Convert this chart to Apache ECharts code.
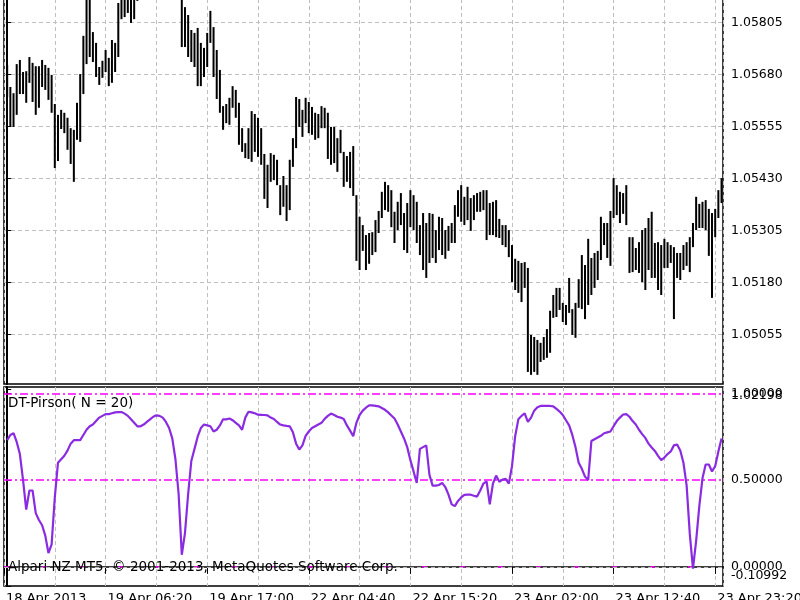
<!DOCTYPE html>
<html><head><meta charset="utf-8">
<script src="https://cdn.jsdelivr.net/npm/echarts@6/dist/echarts.min.js"></script>
<style>html,body{margin:0;padding:0;background:#fff}#c{width:800px;height:600px}</style>
</head><body><div id="c"></div>
<script>
// bars (high / low per bar)
const highs = [
1.05703,1.05650,1.05635,1.05705,1.05715,1.05686,1.05688,1.05722,1.05708,1.05700,
1.05700,1.05715,1.05703,1.05696,1.05679,1.05609,1.05583,1.05595,1.05588,1.05576,
1.05551,1.05547,1.05612,1.05681,1.05773,1.05870,1.05865,1.05782,1.05756,1.05698,
1.05713,1.05739,1.05720,1.05763,1.05756,1.05852,1.05872,1.05868,1.05875,1.05870,
1.05866,1.05880,1.05925,1.05940,1.05955,1.05960,1.05950,1.05965,1.05975,1.05960,
1.05945,1.05935,1.05920,1.05910,1.05900,1.05870,1.05842,1.05823,1.05787,1.05780,
1.05792,1.05756,1.05744,1.05780,1.05833,1.05794,1.05739,1.05691,1.05604,1.05609,
1.05624,1.05652,1.05643,1.05612,1.05551,1.05515,1.05551,1.05592,1.05585,1.05576,
1.05551,1.05489,1.05463,1.05491,1.05487,1.05475,1.05414,1.05436,1.05414,1.05475,
1.05527,1.05626,1.05621,1.05595,1.05624,1.05614,1.05602,1.05588,1.05585,1.05604,
1.05600,1.05588,1.05554,1.05554,1.05527,1.05547,1.05494,1.05484,1.05494,1.05508,
1.05390,1.05338,1.05318,1.05294,1.05299,1.05301,1.05330,1.05352,1.05398,1.05422,
1.05414,1.05402,1.05350,1.05374,1.05395,1.05347,1.05371,1.05402,1.05390,1.05374,
1.05318,1.05347,1.05323,1.05347,1.05345,1.05306,1.05338,1.05335,1.05306,1.05316,
1.05323,1.05366,1.05402,1.05414,1.05386,1.05410,1.05383,1.05390,1.05395,1.05398,
1.05402,1.05402,1.05371,1.05374,1.05378,1.05333,1.05318,1.05318,1.05306,1.05270,
1.05237,1.05232,1.05227,1.05229,1.05215,1.05054,1.05049,1.05042,1.05035,1.05049,
1.05068,1.05112,1.05150,1.05167,1.05167,1.05131,1.05126,1.05191,1.05116,1.05131,
1.05188,1.05246,1.05222,1.05285,1.05239,1.05251,1.05256,1.05338,1.05323,1.05323,
1.05352,1.05431,1.05414,1.05398,1.05395,1.05414,1.05289,1.05289,1.05263,1.05277,
1.05306,1.05311,1.05335,1.05350,1.05275,1.05277,1.05270,1.05285,1.05277,1.05270,
1.05265,1.05251,1.05251,1.05270,1.05277,1.05289,1.05323,1.05386,1.05369,1.05374,
1.05378,1.05357,1.05347,1.05357,1.05402,1.05431
];
const lows = [
1.05626,1.05554,1.05554,1.05583,1.05633,1.05633,1.05612,1.05660,1.05614,1.05583,
1.05600,1.05650,1.05643,1.05619,1.05588,1.05455,1.05472,1.05549,1.05539,1.05499,
1.05465,1.05422,1.05523,1.05518,1.05633,1.05705,1.05722,1.05710,1.05674,1.05655,
1.05672,1.05686,1.05652,1.05660,1.05686,1.05722,1.05813,1.05818,1.05828,1.05804,
1.05813,1.05857,1.05866,1.05880,1.05895,1.05905,1.05890,1.05900,1.05915,1.05905,
1.05885,1.05880,1.05870,1.05865,1.05862,1.05746,1.05746,1.05722,1.05710,1.05698,
1.05652,1.05652,1.05674,1.05698,1.05756,1.05674,1.05621,1.05588,1.05547,1.05563,
1.05559,1.05600,1.05576,1.05511,1.05494,1.05479,1.05477,1.05470,1.05494,1.05482,
1.05463,1.05381,1.05359,1.05422,1.05426,1.05414,1.05342,1.05362,1.05328,1.05354,
1.05458,1.05503,1.05554,1.05530,1.05563,1.05539,1.05535,1.05523,1.05527,1.05551,
1.05551,1.05477,1.05463,1.05467,1.05446,1.05491,1.05410,1.05422,1.05407,1.05388,
1.05232,1.05210,1.05256,1.05210,1.05225,1.05246,1.05253,1.05299,1.05335,1.05354,
1.05350,1.05313,1.05275,1.05306,1.05318,1.05258,1.05251,1.05313,1.05306,1.05275,
1.05246,1.05210,1.05191,1.05227,1.05239,1.05227,1.05258,1.05246,1.05237,1.05256,
1.05275,1.05275,1.05338,1.05326,1.05318,1.05330,1.05304,1.05330,1.05350,1.05350,
1.05354,1.05282,1.05294,1.05294,1.05289,1.05287,1.05270,1.05265,1.05241,1.05181,
1.05162,1.05155,1.05133,1.05167,1.04965,1.04958,1.04965,1.04958,1.04989,1.04994,
1.04999,1.05011,1.05095,1.05097,1.05114,1.05085,1.05078,1.05107,1.05054,1.05047,
1.05119,1.05116,1.05092,1.05126,1.05150,1.05167,1.05186,1.05234,1.05270,1.05239,
1.05220,1.05335,1.05342,1.05323,1.05345,1.05318,1.05203,1.05205,1.05210,1.05203,
1.05181,1.05162,1.05210,1.05191,1.05191,1.05162,1.05150,1.05215,1.05215,1.05227,
1.05092,1.05191,1.05186,1.05210,1.05220,1.05205,1.05265,1.05306,1.05311,1.05311,
1.05306,1.05244,1.05143,1.05289,1.05335,1.05371
];
// DT-Pirson(N = 20) indicator values, one per bar
const pirson = [
0.73,0.76,0.77,0.72,0.65,0.50,0.33,0.44,0.44,0.31,
0.27,0.24,0.18,0.08,0.13,0.40,0.60,0.62,0.64,0.67,
0.71,0.73,0.73,0.73,0.76,0.79,0.81,0.82,0.84,0.86,
0.87,0.88,0.88,0.885,0.89,0.892,0.892,0.883,0.87,0.85,
0.83,0.81,0.81,0.82,0.835,0.85,0.865,0.873,0.87,0.86,
0.835,0.80,0.74,0.62,0.42,0.07,0.195,0.42,0.61,0.68,
0.75,0.80,0.82,0.815,0.81,0.78,0.79,0.815,0.85,0.85,
0.855,0.845,0.83,0.815,0.79,0.86,0.894,0.89,0.885,0.877,
0.876,0.875,0.873,0.86,0.852,0.835,0.82,0.815,0.812,0.81,
0.775,0.71,0.676,0.70,0.755,0.78,0.80,0.81,0.82,0.83,
0.853,0.87,0.883,0.875,0.865,0.86,0.852,0.815,0.785,0.753,
0.83,0.875,0.90,0.917,0.93,0.93,0.928,0.925,0.915,0.905,
0.89,0.872,0.855,0.82,0.78,0.74,0.69,0.615,0.55,0.484,
0.68,0.69,0.70,0.53,0.468,0.468,0.472,0.484,0.46,0.416,
0.36,0.35,0.38,0.40,0.415,0.416,0.416,0.41,0.405,0.44,
0.48,0.493,0.36,0.48,0.526,0.49,0.503,0.507,0.48,0.58,
0.753,0.85,0.87,0.885,0.835,0.86,0.90,0.92,0.927,0.927,
0.927,0.927,0.925,0.91,0.895,0.875,0.845,0.815,0.76,0.69,
0.60,0.565,0.52,0.50,0.725,0.735,0.745,0.755,0.77,0.775,
0.78,0.81,0.84,0.86,0.878,0.88,0.865,0.84,0.82,0.79,
0.765,0.743,0.71,0.688,0.668,0.64,0.615,0.63,0.65,0.665,
0.70,0.705,0.67,0.60,0.47,0.19,-0.01,0.15,0.35,0.51,
0.59,0.59,0.55,0.58,0.665,0.74
];
const priceTicks = [1.05055,1.05180,1.05305,1.05430,1.05555,1.05680,1.05805];
const indLevelTicks = [0,0.5,1];
const indRangeTicks = [-0.10992,1.02198];
const levels = [1.0,0.5,0.0];
const timeLabels = ['18 Apr 2013','19 Apr 06:20','19 Apr 17:00','22 Apr 04:40','22 Apr 15:20','23 Apr 02:00','23 Apr 12:40','23 Apr 23:20'];
const timeLabelBars = [-1,31,63,95,127,159,191,223];
const indicatorTitle = 'DT-Pirson( N = 20)';
const copyright = 'Alpari NZ MT5, \u00A9 2001-2013, MetaQuotes Software Corp.';

const FONT = 'DejaVu Sans';
const chart = echarts.init(document.getElementById('c'), null, {renderer:'canvas'});
const barData = highs.map((h,i)=>[i, lows[i], h]);
const lineData = pirson.map((v,i)=>[i,v]);
const X_MIN = -1, X_MAX = 225.46;
const IND_MIN = -0.1100, IND_MAX = 1.0363;
const gridLine = {show:true, lineStyle:{color:'#c0c0c0', type:[4,3], width:1}};
const hidden = {axisLine:{show:false}, axisTick:{show:false}, axisLabel:{show:false}};
const fmt5 = v => v.toFixed(5);

const levelStyles = [
  {color:'#ff00ff', type:[8,3,2,3], width:1.5},
  {color:'#ff00ff', type:[8,3,2,3], width:1.5},
  {color:'#ff00ff', type:[5,33], width:1.5}
];

const option = {
  animation:false,
  backgroundColor:'#ffffff',
  textStyle:{fontFamily:FONT},
  grid:[
    {left:4, top:-1, width:719, height:385, show:true, borderColor:'#000', borderWidth:1.5, containLabel:false, outerBoundsMode:'none'},
    {left:4, top:387, width:719, height:199, show:true, borderColor:'#000', borderWidth:1.5, containLabel:false, outerBoundsMode:'none'}
  ],
  xAxis:[
    Object.assign({gridIndex:0, type:'value', min:X_MIN, max:X_MAX, interval:16, splitLine:gridLine}, hidden),
    Object.assign({gridIndex:1, type:'value', position:'top', min:X_MIN, max:X_MAX, interval:16, splitLine:gridLine}, hidden),
    {gridIndex:1, type:'value', position:'bottom', min:X_MIN, max:X_MAX,
     axisLine:{show:true, lineStyle:{color:'#000', width:1.5}},
     axisTick:{show:true, customValues:timeLabelBars, length:7, lineStyle:{color:'#000'}},
     axisLabel:{show:true, customValues:timeLabelBars, align:'left', color:'#000', fontSize:13, fontFamily:FONT, margin:6,
       padding:[0,0,0,2],
       formatter:v=>{const k=timeLabelBars.indexOf(Math.round(v)); return k>=0?timeLabels[k]:'';}},
     splitLine:{show:false}}
  ],
  yAxis:[
    {gridIndex:0, type:'value', position:'right', min:1.04936, max:1.058615, interval:0.00125,
     axisLine:{show:true, lineStyle:{color:'#000', width:2}},
     axisTick:{show:true, customValues:priceTicks, length:4, lineStyle:{color:'#000'}},
     axisLabel:{show:true, customValues:priceTicks, color:'#000', fontSize:12.5, fontFamily:FONT, margin:8, formatter:fmt5},
     splitLine:gridLine},
    {gridIndex:1, type:'value', position:'right', min:IND_MIN, max:IND_MAX,
     axisLine:{show:true, lineStyle:{color:'#000', width:2}},
     axisTick:{show:true, customValues:indLevelTicks, length:4, lineStyle:{color:'#000'}},
     axisLabel:{show:true, customValues:indLevelTicks, color:'#000', fontSize:12.5, fontFamily:FONT, margin:8, formatter:fmt5},
     splitLine:{show:false}},
    {gridIndex:1, type:'value', position:'right', offset:0, min:IND_MIN, max:IND_MAX,
     axisLine:{show:false},
     axisTick:{show:true, customValues:indRangeTicks, length:4, lineStyle:{color:'#000'}},
     axisLabel:{show:true, customValues:indRangeTicks, color:'#000', fontSize:12.5, fontFamily:FONT, margin:8,
       padding:[0,0,4,0], verticalAlignMinLabel:'bottom', verticalAlignMaxLabel:'top', formatter:fmt5},
     splitLine:{show:false}}
  ],
  series:[
    {type:'custom', xAxisIndex:0, yAxisIndex:0, clip:true, data:barData,
     encode:{x:0, y:[1,2]},
     renderItem:(params, api)=>{
       const x = api.value(0), lo = api.value(1), hi = api.value(2);
       const p1 = api.coord([x, hi]), p2 = api.coord([x, lo]);
       return {type:'line', shape:{x1:p1[0], y1:p1[1], x2:p2[0], y2:p2[1]}, style:{stroke:'#000', lineWidth:2}};
     }},
    {type:'line', xAxisIndex:1, yAxisIndex:1, data:lineData, showSymbol:false, symbol:'none',
     lineStyle:{color:'#8a2be2', width:2.2}, z:5,
     markLine:{silent:true, symbol:['none','none'], label:{show:false}, animation:false, z:3,
       data: levels.map((lv,i)=>({yAxis:lv, lineStyle:levelStyles[i]})).concat([{yAxis:0, lineStyle:{color:'#b8b8b8', type:[4,3], width:1}}])}}
  ],
  graphic:[
    {type:'text', left:8, top:396, z:10, style:{text:indicatorTitle, font:'13.5px "DejaVu Sans"', fill:'#000'}},
    {type:'text', left:8, top:560, z:10, style:{text:copyright, font:'13.5px "DejaVu Sans"', fill:'#000'}}
  ]
};
chart.setOption(option);
</script>
</body></html>
